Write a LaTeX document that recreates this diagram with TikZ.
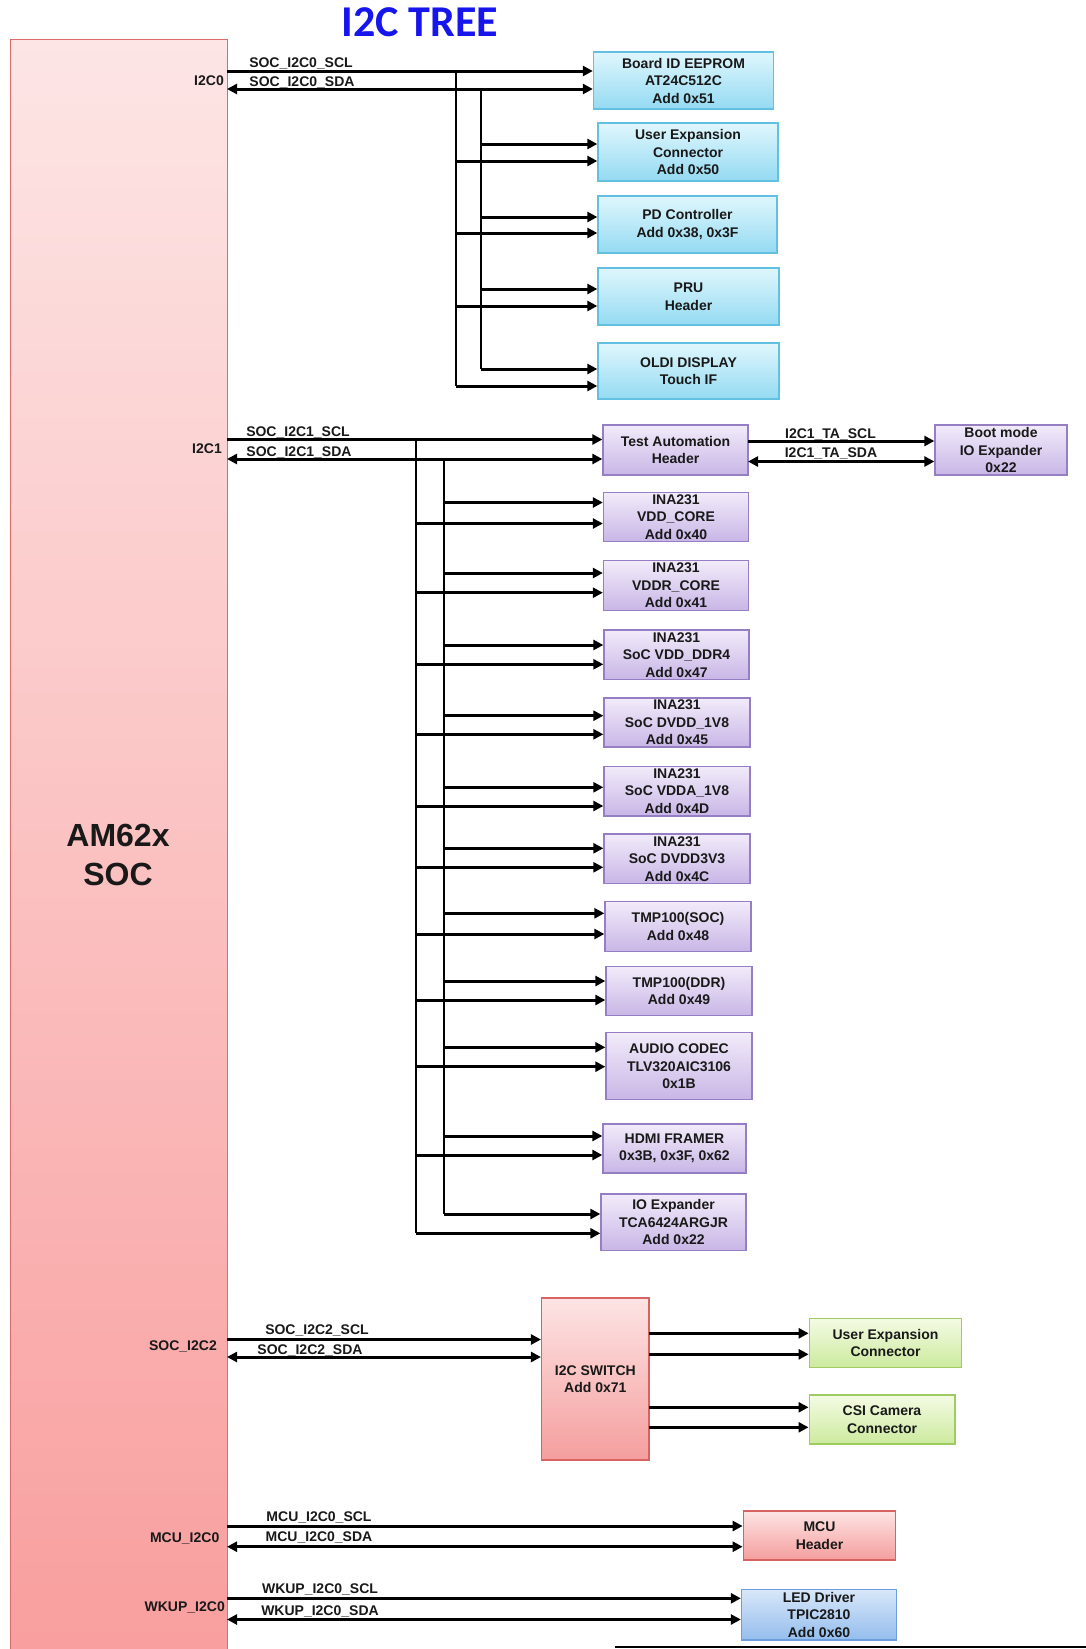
\documentclass[tikz,border=0pt]{standalone}
\usepackage{fontspec}
\setmainfont{Liberation Sans}
\newfontfamily\titlefont{Carlito}
\usetikzlibrary{arrows.meta}
\definecolor{cyT}{RGB}{224,247,253}
\definecolor{cyB}{RGB}{148,218,242}
\definecolor{cyD}{RGB}{98,192,224}
\definecolor{puT}{RGB}{242,235,250}
\definecolor{puB}{RGB}{200,182,230}
\definecolor{puD}{RGB}{150,126,196}
\definecolor{grT}{RGB}{244,251,228}
\definecolor{grB}{RGB}{204,234,158}
\definecolor{grD}{RGB}{158,204,98}
\definecolor{rdT}{RGB}{253,228,228}
\definecolor{rdB}{RGB}{245,158,158}
\definecolor{rdD}{RGB}{214,98,98}
\definecolor{blT}{RGB}{216,231,249}
\definecolor{blB}{RGB}{148,189,237}
\definecolor{blD}{RGB}{108,158,220}
\definecolor{soT}{RGB}{253,229,229}
\definecolor{soB}{RGB}{249,158,158}
\definecolor{soD}{RGB}{218,108,108}
\definecolor{ttl}{RGB}{22,22,236}
\definecolor{txt}{RGB}{25,25,25}
\newcommand\bxf{\fontsize{14}{17.5}\selectfont\bfseries}
\newcommand\lbf{\fontsize{14}{16}\selectfont\bfseries}
\newcommand\twoarrows[5]{%
  \coordinate (#1-u) at (#4,#2);
  \coordinate (#1-l) at (#5,#3);
  \draw[sig] (#1-u) -- (#1.west |- #1-u);
  \draw[sig] (#1-l) -- (#1.west |- #1-l);
}
\tikzset{
  box/.style={draw, line width=1.3pt, inner sep=0pt, align=center, font=\bxf, text=txt},
  cybox/.style={box, draw=cyD, top color=cyT, bottom color=cyB},
  pubox/.style={box, draw=puD, top color=puT, bottom color=puB},
  grbox/.style={box, draw=grD, top color=grT, bottom color=grB},
  rdbox/.style={box, draw=rdD, top color=rdT, bottom color=rdB},
  blbox/.style={box, draw=blD, top color=blT, bottom color=blB},
  sig/.style={line width=3pt, -{Triangle[length=10pt,width=10pt]}},
  sigd/.style={line width=3pt, {Triangle[length=10pt,width=10pt]}-{Triangle[length=10pt,width=10pt]}},
  bus/.style={line width=2pt},
  slab/.style={anchor=base, inner sep=0pt, font=\lbf, text=txt},
  plab/.style={anchor=base east, inner sep=0pt, font=\lbf, text=txt}
}
\begin{document}
\begin{tikzpicture}[x=1pt,y=-1pt]
\useasboundingbox (0,0) rectangle (1086,1649);
\clip (0,0) rectangle (1086,1649);
\fill[white] (0,0) rectangle (1086,1649);

% title
\node[font={\titlefont\fontsize{44}{44}\selectfont\bfseries}, text=ttl] (title) at (420,22) {I2C TREE};

% SoC
\node[draw=soD, line width=1.3pt, top color=soT, bottom color=soB, minimum width=217, minimum height=1625, anchor=north west, inner sep=0pt] (soc) at (10,39) {};
\node[font={\fontsize{32}{39}\selectfont\bfseries}, align=center, text=txt, inner sep=0pt] (socname) at (118,854.5) {AM62x\\SOC};

% ---------- I2C0 ----------
\node[cybox, minimum width=180, minimum height=57] (eeprom) at (683.5,80.5) {Board ID EEPROM\\AT24C512C\\Add 0x51};
\node[cybox, minimum width=180, minimum height=58] (uexp0) at (688,152) {User Expansion\\Connector\\Add 0x50};
\node[cybox, minimum width=179, minimum height=57] (pd) at (687.5,224.5) {PD Controller\\Add 0x38, 0x3F};
\node[cybox, minimum width=181, minimum height=57] (pru) at (688.5,296.5) {PRU\\Header};
\node[cybox, minimum width=181, minimum height=56] (oldi) at (688.5,371) {OLDI DISPLAY\\Touch IF};

\node[plab] (l0) at (224,85.5) {I2C0};
\node[slab] (l0c) at (301,67.5) {SOC\_I2C0\_SCL};
\node[slab] (l0d) at (302,86) {SOC\_I2C0\_SDA};

\coordinate (p0c) at (227,71);
\coordinate (p0d) at (227,89);
\draw[sig] (p0c) -- (eeprom.west |- p0c);
\draw[sigd] (p0d) -- (eeprom.west |- p0d);
\coordinate (v0c) at (456,71);
\coordinate (v0d) at (481,89);
\twoarrows{uexp0}{144}{161}{481}{456}
\twoarrows{pd}{217}{233}{481}{456}
\twoarrows{pru}{289}{306}{481}{456}
\twoarrows{oldi}{369}{386}{481}{456}
\draw[bus] (v0c) -- (oldi-l);
\draw[bus] (v0d) -- (oldi-u);

% ---------- I2C1 ----------
\node[pubox, minimum width=145, minimum height=50] (ta) at (675.5,450) {Test Automation\\Header};
\node[pubox, minimum width=132, minimum height=50] (boot) at (1001,450) {Boot mode\\IO Expander\\0x22};
\node[pubox, minimum width=145, minimum height=49.5] (ina1) at (676,517) {INA231\\VDD\_CORE\\Add 0x40};
\node[pubox, minimum width=145, minimum height=49.5] (ina2) at (676,585.5) {INA231\\VDDR\_CORE\\Add 0x41};
\node[pubox, minimum width=145, minimum height=49.5] (ina3) at (676.5,654.7) {INA231\\SoC VDD\_DDR4\\Add 0x47};
\node[pubox, minimum width=146, minimum height=49] (ina4) at (677,722.5) {INA231\\SoC DVDD\_1V8\\Add 0x45};
\node[pubox, minimum width=146, minimum height=49.7] (ina5) at (677,791) {INA231\\SoC VDDA\_1V8\\Add 0x4D};
\node[pubox, minimum width=146, minimum height=49.3] (ina6) at (677,858.7) {INA231\\SoC DVDD3V3\\Add 0x4C};
\node[pubox, minimum width=146, minimum height=50] (tmp1) at (678,926.7) {TMP100(SOC)\\Add 0x48};
\node[pubox, minimum width=146, minimum height=48.5] (tmp2) at (679,991) {TMP100(DDR)\\Add 0x49};
\node[pubox, minimum width=146, minimum height=67] (audio) at (679,1066.3) {AUDIO CODEC\\TLV320AIC3106\\0x1B};
\node[pubox, minimum width=143, minimum height=49] (hdmi) at (674.5,1148.5) {HDMI FRAMER\\0x3B, 0x3F, 0x62};
\node[pubox, minimum width=145, minimum height=56.7] (ioexp) at (673.5,1222.3) {IO Expander\\TCA6424ARGJR\\Add 0x22};

\node[plab] (l1) at (222,453) {I2C1};
\node[slab] (l1c) at (298,436.5) {SOC\_I2C1\_SCL};
\node[slab] (l1d) at (299,456) {SOC\_I2C1\_SDA};
\node[slab] (l1tc) at (830.5,438.3) {I2C1\_TA\_SCL};
\node[slab] (l1td) at (831,457.3) {I2C1\_TA\_SDA};

\coordinate (p1c) at (227,439.5);
\coordinate (p1d) at (227,459);
\draw[sig] (p1c) -- (ta.west |- p1c);
\draw[sigd] (p1d) -- (ta.west |- p1d);
\coordinate (t1c) at (748,441);
\coordinate (t1d) at (748,461.5);
\draw[sig] (t1c) -- (boot.west |- t1c);
\draw[sigd] (t1d) -- (boot.west |- t1d);
\coordinate (v1c) at (416,439.5);
\coordinate (v1d) at (443.5,459);
\twoarrows{ina1}{502.5}{523.5}{443.5}{416}
\twoarrows{ina2}{573}{592.7}{443.5}{416}
\twoarrows{ina3}{645}{664.3}{443.5}{416}
\twoarrows{ina4}{715.7}{734.3}{443.5}{416}
\twoarrows{ina5}{787.3}{806}{443.5}{416}
\twoarrows{ina6}{848.3}{867.3}{443.5}{416}
\twoarrows{tmp1}{913.3}{934}{443.5}{416}
\twoarrows{tmp2}{981}{1000}{443.5}{416}
\twoarrows{audio}{1047.3}{1066.7}{443.5}{416}
\twoarrows{hdmi}{1136}{1155}{443.5}{416}
\twoarrows{ioexp}{1214}{1233.3}{443.5}{416}
\draw[bus] (v1c) -- (ioexp-l);
\draw[bus] (v1d) -- (ioexp-u);

% ---------- SOC_I2C2 ----------
\node[rdbox, minimum width=107.4, minimum height=162] (switch) at (595.3,1379) {I2C SWITCH\\Add 0x71};
\node[grbox, minimum width=152.4, minimum height=49] (uexp2) at (885.5,1342.8) {User Expansion\\Connector};
\node[grbox, minimum width=145.7, minimum height=49] (csi) at (882,1419.5) {CSI Camera\\Connector};

\node[plab] (l2) at (217,1350.5) {SOC\_I2C2};
\node[slab] (l2c) at (317,1334.3) {SOC\_I2C2\_SCL};
\node[slab] (l2d) at (310,1354) {SOC\_I2C2\_SDA};

\coordinate (p2c) at (227,1339.5);
\coordinate (p2d) at (227,1357);
\draw[sig] (p2c) -- (switch.west |- p2c);
\draw[sigd] (p2d) -- (switch.west |- p2d);
\coordinate (s2a) at (649,1333.3);
\coordinate (s2b) at (649,1354.3);
\coordinate (s2c) at (649,1407.3);
\coordinate (s2d) at (649,1427.3);
\draw[sig] (s2a) -- (uexp2.west |- s2a);
\draw[sig] (s2b) -- (uexp2.west |- s2b);
\draw[sig] (s2c) -- (csi.west |- s2c);
\draw[sig] (s2d) -- (csi.west |- s2d);

% ---------- MCU_I2C0 ----------
\node[rdbox, minimum width=152.4, minimum height=49] (mcu) at (819.5,1535.5) {MCU\\Header};
\node[plab] (lm) at (219.5,1542) {MCU\_I2C0};
\node[slab] (lmc) at (319,1521) {MCU\_I2C0\_SCL};
\node[slab] (lmd) at (319,1541.7) {MCU\_I2C0\_SDA};
\coordinate (pmc) at (227,1526);
\coordinate (pmd) at (227,1546.7);
\draw[sig] (pmc) -- (mcu.west |- pmc);
\draw[sigd] (pmd) -- (mcu.west |- pmd);

% ---------- WKUP_I2C0 ----------
\node[blbox, minimum width=155, minimum height=50.7] (led) at (819,1614.7) {LED Driver\\TPIC2810\\Add 0x60};
\node[plab] (lw) at (225,1611.7) {WKUP\_I2C0};
\node[slab] (lwc) at (320,1593) {WKUP\_I2C0\_SCL};
\node[slab] (lwd) at (320,1615.7) {WKUP\_I2C0\_SDA};
\coordinate (pwc) at (227,1598.3);
\coordinate (pwd) at (227,1619.5);
\draw[sig] (pwc) -- (led.west |- pwc);
\draw[sigd] (pwd) -- (led.west |- pwd);

% bottom rule
\coordinate (bl0) at (615,1647);
\coordinate (bl1) at (1086,1647);
\draw[line width=2pt] (bl0) -- (bl1);
\end{tikzpicture}
\end{document}
